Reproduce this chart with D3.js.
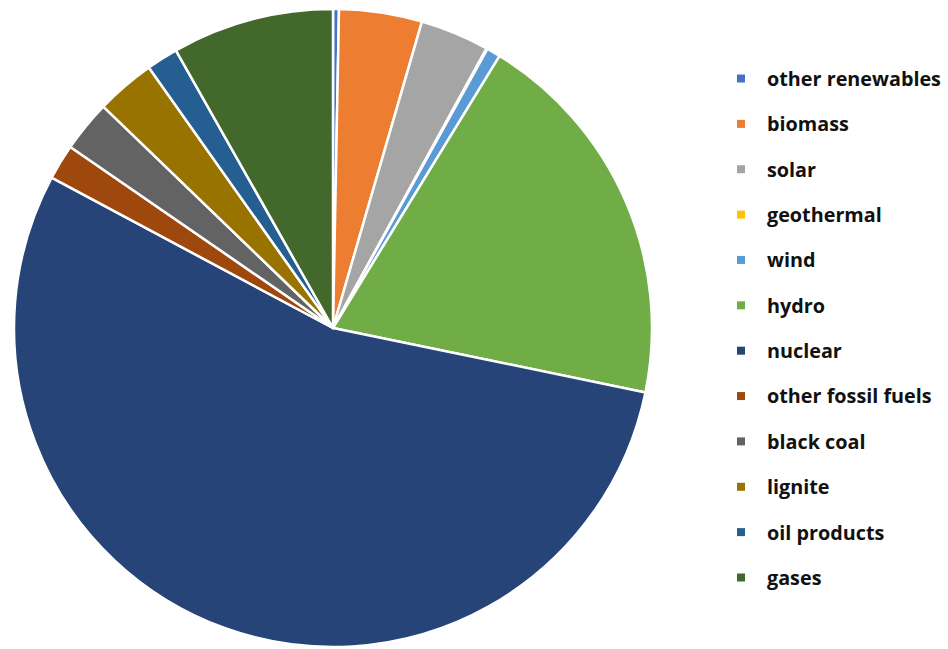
<!DOCTYPE html>
<html>
<head>
<meta charset="utf-8">
<script src="https://cdn.jsdelivr.net/npm/d3@7"></script>
<style>
  html, body { margin: 0; padding: 0; background: #fff; }
  svg { display: block; }
  .legend text { font-family: "Open Sans", "Liberation Sans", sans-serif; font-weight: 700; font-size: 19.8px; fill: #111; }
</style>
</head>
<body>
<svg id="chart" width="948" height="649"></svg>
<script>
// Electricity generation mix by source (share, %)
const sources = [
  "other renewables", "biomass", "solar", "geothermal", "wind", "hydro",
  "nuclear", "other fossil fuels", "black coal", "lignite", "oil products", "gases"
];
const shares = [0.3, 4.2, 3.5, 0.05, 0.7, 19.5, 54.6, 1.8, 2.6, 3.0, 1.6, 8.2];
const colours = [
  "#4472C4", "#ED7D31", "#A5A5A5", "#FFC000", "#5B9BD5", "#70AD47",
  "#264478", "#9E480E", "#636363", "#997300", "#255E91", "#43682B"
];

const data = sources.map((name, i) => ({ name, value: shares[i], colour: colours[i] }));

const svg = d3.select("#chart");
const cx = 333, cy = 328, radius = 319;

const pie = d3.pie().value(d => d.value).sort(null);
const arc = d3.arc().innerRadius(0).outerRadius(radius);

svg.append("g")
  .attr("transform", `translate(${cx},${cy})`)
  .selectAll("path")
  .data(pie(data))
  .join("path")
  .attr("d", arc)
  .attr("fill", d => d.data.colour)
  .attr("stroke", "#fff")
  .attr("stroke-width", 2.5)
  .attr("stroke-linejoin", "round");

// Legend column on the right
const rowY = d3.scalePoint().domain(sources).range([79, 578]);
const legend = svg.append("g").attr("class", "legend");
const item = legend.selectAll("g").data(data).join("g")
  .attr("transform", d => `translate(0,${rowY(d.name)})`);
item.append("rect")
  .attr("x", 737).attr("y", -4.5).attr("width", 8).attr("height", 8)
  .attr("fill", d => d.colour);
item.append("text")
  .attr("x", 767).attr("y", 0).attr("dy", "0.35em")
  .text(d => d.name);
</script>
</body>
</html>
